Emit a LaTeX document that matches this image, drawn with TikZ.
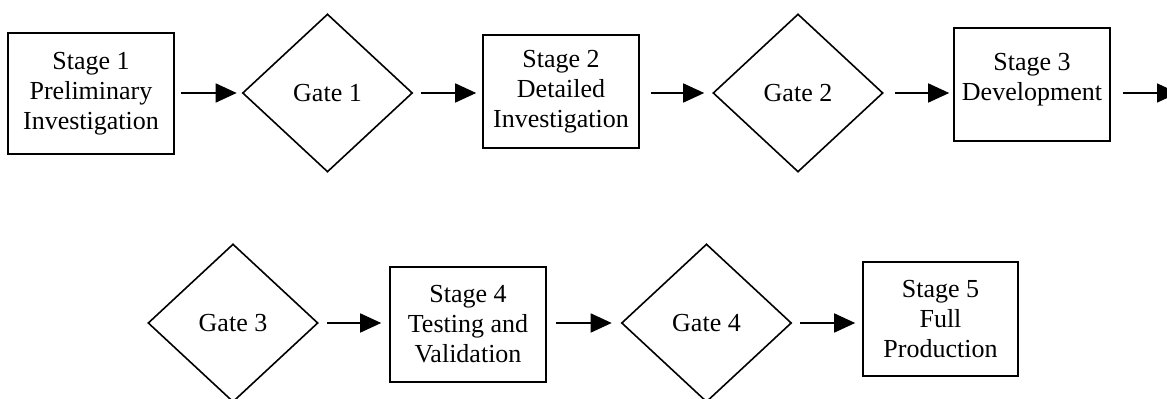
\documentclass[tikz,border=0pt]{standalone}
\usepackage{fontspec}
\setmainfont{Liberation Serif}
\usetikzlibrary{shapes.geometric,arrows.meta}
\begin{document}
\begin{tikzpicture}[x=0.5pt,y=-0.5pt,
  every node/.style={font=\fontsize{13}{15}\selectfont},
  stagebox/.style={draw,line width=0.8pt,rectangle,align=center,inner sep=0pt},
  gate/.style={draw,line width=0.8pt,diamond,inner sep=0pt,minimum width=85pt,minimum height=79pt},
  flow/.style={line width=0.8pt,-{Triangle[length=10.5pt,width=9.5pt]}}]
\useasboundingbox (0,0) rectangle (1167,399);
% row 1
\node[stagebox,minimum width=83pt,minimum height=60.5pt] (s1) at (91,93.5) {Stage 1\\Preliminary\\Investigation};
\node[gate] (g1) at (327.5,93) {Gate 1};
\node[stagebox,minimum width=78pt,minimum height=56.5pt] (s2) at (561,91.5) {Stage 2\\Detailed\\Investigation};
\node[gate] (g2) at (798,93) {Gate 2};
\node[stagebox,minimum width=78pt,minimum height=56.5pt,
  label={[align=center,yshift=2.5pt,font=\fontsize{13}{15}\selectfont]center:Stage 3\\Development}] (s3) at (1032,84.5) {};
\coordinate (out3) at (1178,93);
% row 2
\node[gate] (g3) at (233,323) {Gate 3};
\node[stagebox,minimum width=78pt,minimum height=57.5pt] (s4) at (468,324.5) {Stage 4\\Testing and\\Validation};
\node[gate] (g4) at (706.5,323) {Gate 4};
\node[stagebox,minimum width=77.5pt,minimum height=57pt] (s5) at (940.5,319) {Stage 5\\Full\\Production};
% connectors
\draw[flow,shorten <=3pt,shorten >=2.5pt] (s1.east |- g1.west) -- (g1.west);
\draw[flow,shorten <=4pt,shorten >=3pt] (g1.east) -- (g1.east -| s2.west);
\draw[flow,shorten <=5.5pt,shorten >=4pt] (s2.east |- g2.west) -- (g2.west);
\draw[flow,shorten <=5.5pt,shorten >=2pt] (g2.east) -- (g2.east -| s3.west);
\draw[flow,shorten <=6pt] (s3.east |- out3) -- (out3);
\draw[flow,shorten <=4pt,shorten >=4pt] (g3.east) -- (g3.east -| s4.west);
\draw[flow,shorten <=4.5pt,shorten >=4.5pt] (s4.east |- g4.west) -- (g4.west);
\draw[flow,shorten <=4pt,shorten >=3.5pt] (g4.east) -- (g4.east -| s5.west);
\end{tikzpicture}
\end{document}
